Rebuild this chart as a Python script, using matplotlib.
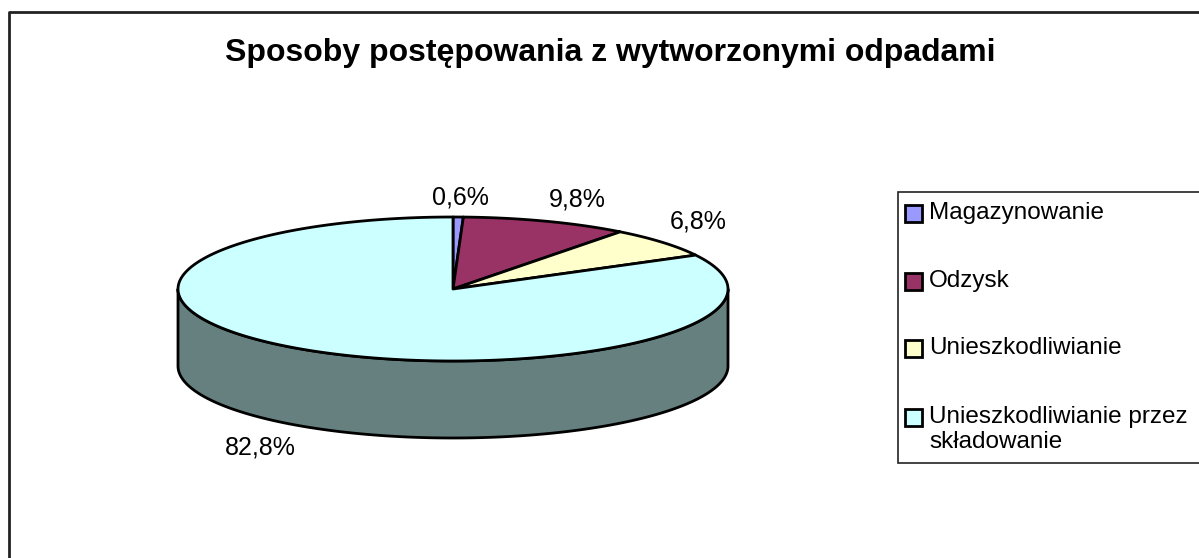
import numpy as np
import matplotlib.pyplot as plt
from matplotlib.patches import Polygon, Rectangle

plt.rcParams['font.family'] = ['Liberation Sans', 'DejaVu Sans']

# Dane
kategorie = ['Magazynowanie', 'Odzysk', 'Unieszkodliwianie',
             'Unieszkodliwianie przez\nskładowanie']
udzialy = [0.6, 9.8, 6.8, 82.8]
etykiety = ['0,6%', '9,8%', '6,8%', '82,8%']
kolory = ['#9999FF', '#993366', '#FFFFCC', '#CCFFFF']
kolory_boku = ['#4C4C80', '#4C1933', '#808066', '#668080']

# Geometria (w pikselach)
cx, cy = 453, 289
a, b = 275, 72
glebokosc = 77

fig = plt.figure(figsize=(11.99, 5.58), dpi=100)
ax = fig.add_axes([0, 0, 1, 1])
ax.set_xlim(0, 1199)
ax.set_ylim(558, 0)
ax.axis('off')


def punkty(t0, t1, dy=0, n=200):
    t = np.radians(np.linspace(t0, t1, n))
    return np.column_stack([cx + a * np.cos(t), cy + dy - b * np.sin(t)])


# Katy wycinkow: start od godziny 12, zgodnie z ruchem wskazowek
frac = np.array(udzialy) / sum(udzialy)
konce = 90 - 360 * np.cumsum(frac)
poczatki = np.concatenate([[90], konce[:-1]])

# Bok (tylko przednia polowa, katy 180..360)
for t0, t1, kb in zip(poczatki, konce, kolory_boku):
    lo, hi = min(t0, t1), max(t0, t1)
    for off in (0, -360, 360):
        s0, s1 = max(lo + off, -180), min(hi + off, 0)
        if s1 > s0:
            gora = punkty(s0, s1)
            dol = punkty(s1, s0, dy=glebokosc)
            ax.add_patch(Polygon(np.vstack([gora, dol]), closed=True,
                                 facecolor=kb, edgecolor='black', lw=2,
                                 joinstyle='round', zorder=2))

# Gorna powierzchnia
for t0, t1, k in zip(poczatki, konce, kolory):
    luk = punkty(t0, t1)
    poly = np.vstack([[cx, cy], luk])
    ax.add_patch(Polygon(poly, closed=True, facecolor=k, edgecolor='black',
                         lw=2, joinstyle='round', zorder=3))

# Etykiety procentowe
poz_etykiet = [(460, 197), (577, 199), (698, 222), (260, 448)]
for (x, y), txt in zip(poz_etykiet, etykiety):
    ax.text(x, y, txt, fontsize=18, ha='center', va='center', zorder=5)

# Tytul
ax.text(610, 53, 'Sposoby postępowania z wytworzonymi odpadami',
        fontsize=23, fontweight='bold', ha='center', va='center')

# Ramka wykresu
ax.plot([8.5, 8.5, 1199], [570, 11.5, 11.5], color='#222222', lw=2,
        clip_on=False, zorder=1)

# Legenda
ax.add_patch(Rectangle((898, 192), 320, 271, facecolor='white',
                       edgecolor='#222222', lw=1.2, zorder=4))
leg_y = [213, 281, 348, 417]
for y, k, nazwa in zip(leg_y, kolory, kategorie):
    ax.add_patch(Rectangle((905, y - 8.5), 17, 17, facecolor=k,
                           edgecolor='black', lw=2, zorder=5))
    ax.text(929, y - 11, nazwa, fontsize=17.5, ha='left', va='top',
            linespacing=1.15, zorder=5)

fig.savefig('out.png', dpi=100)
